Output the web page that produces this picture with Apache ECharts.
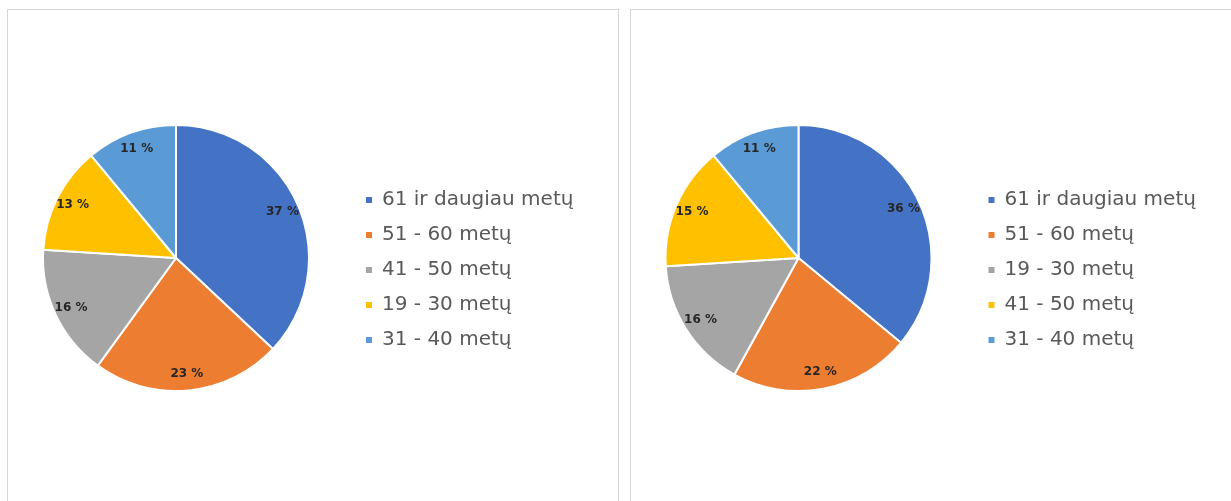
<!DOCTYPE html>
<html>
<head>
<meta charset="utf-8">
<script src="https://cdn.jsdelivr.net/npm/echarts@6/dist/echarts.min.js"></script>
<style>
body { margin: 0; background: #fff; }
.panel {
  position: absolute;
  top: 9px;
  height: 492px;
  box-sizing: border-box;
  border-top: 1px solid #d6d6d6;
  border-left: 1px solid #d6d6d6;
  border-right: 1px solid #d6d6d6;
}
#left { left: 7px; width: 612px; }
#right { left: 630px; width: 601px; border-right: none; }
</style>
</head>
<body>
<div class="panel" id="left"></div>
<div class="panel" id="right"></div>
<script>
// left chart
var leftNames = ['61 ir daugiau metų', '51 - 60 metų', '41 - 50 metų', '19 - 30 metų', '31 - 40 metų']
var leftValues = [37, 23, 16, 13, 11]
// right chart
var rightNames = ['61 ir daugiau metų', '51 - 60 metų', '19 - 30 metų', '41 - 50 metų', '31 - 40 metų']
var rightValues = [36, 22, 16, 15, 11]

var colors = ['#4472C4', '#ED7D31', '#A5A5A5', '#FFC000', '#5B9BD5']

function makeChart(id, names, values, cx) {
  var chart = echarts.init(document.getElementById(id))
  var data = names.map(function (n, i) { return { name: n, value: values[i] } })
  var option = {
    animation: false,
    color: colors,
    legend: {
      orient: 'vertical',
      left: cx + 183,
      top: 175,
      icon: 'rect',
      itemWidth: 8,
      itemHeight: 8,
      itemGap: 15,
      data: names,
      selectedMode: false,
      textStyle: {
        fontFamily: 'DejaVu Sans',
        fontSize: 20,
        lineHeight: 20,
        padding: [0, 0, 0, 4],
        color: '#595959',
      },
    },
    series: [
      {
        type: 'pie',
        center: [cx, 248],
        radius: [0, 133],
        startAngle: 90,
        clockwise: true,
        silent: true,
        itemStyle: { borderColor: '#fff', borderWidth: 2 },
        label: { show: false },
        labelLine: { show: false },
        data: data,
      },
      {
        // ring only used to place the labels near the rim
        type: 'pie',
        center: [cx, 248],
        radius: [94, 132],
        startAngle: 90,
        clockwise: true,
        silent: true,
        itemStyle: { color: 'rgba(0,0,0,0)', borderWidth: 0 },
        label: {
          show: true,
          position: 'inside',
          formatter: '{c} %',
          fontFamily: 'DejaVu Sans',
          fontWeight: 'bold',
          fontSize: 12,
          color: '#262626',
        },
        labelLine: { show: false },
        data: data,
      },
    ],
  }
  chart.setOption(option)
}

makeChart('left', leftNames, leftValues, 168)
makeChart('right', rightNames, rightValues, 167.5)
</script>
</body>
</html>
